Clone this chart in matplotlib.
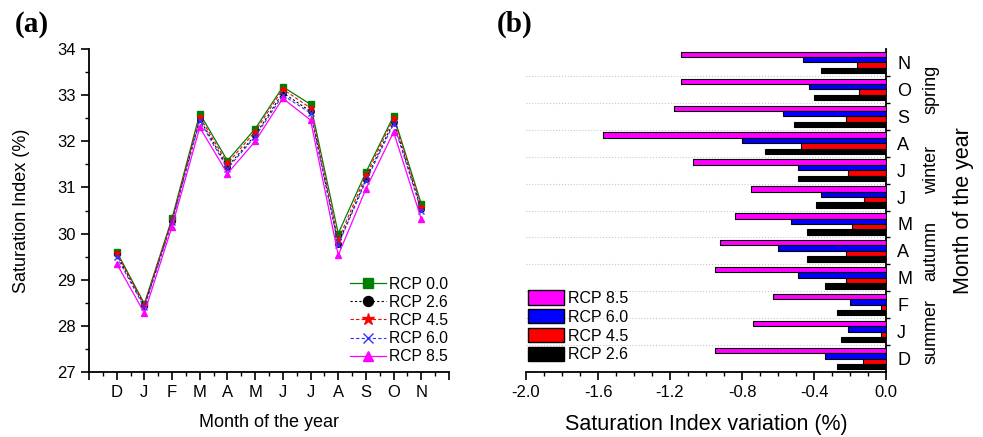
import numpy as np
import matplotlib
matplotlib.use('Agg')
import matplotlib.pyplot as plt
from matplotlib.ticker import MultipleLocator
from matplotlib.patches import Patch

plt.rcParams['font.family'] = ['Liberation Sans', 'DejaVu Sans']

# months (December to November)
months = ['D', 'J', 'F', 'M', 'A', 'M', 'J', 'J', 'A', 'S', 'O', 'N']

# (a) saturation index (%)
si_00 = [29.61, 28.48, 30.33, 32.60, 31.58, 32.27, 33.18, 32.80, 30.00, 31.33, 32.55, 30.64]
si_26 = [29.55, 28.43, 30.27, 32.48, 31.45, 32.13, 33.05, 32.65, 29.78, 31.18, 32.42, 30.53]
si_45 = [29.58, 28.46, 30.30, 32.53, 31.52, 32.21, 33.13, 32.72, 29.86, 31.26, 32.50, 30.58]
si_60 = [29.50, 28.40, 30.25, 32.44, 31.41, 32.10, 33.00, 32.61, 29.76, 31.14, 32.38, 30.49]
si_85 = [29.35, 28.28, 30.15, 32.30, 31.30, 32.00, 32.93, 32.46, 29.53, 30.97, 32.20, 30.31]

# (b) saturation index variation (%)
var_85 = [-0.95, -0.74, -0.63, -0.95, -0.92, -0.84, -0.75, -1.07, -1.57, -1.18, -1.14, -1.14]
var_60 = [-0.34, -0.21, -0.20, -0.49, -0.60, -0.53, -0.36, -0.49, -0.80, -0.57, -0.43, -0.46]
var_45 = [-0.13, -0.03, -0.03, -0.22, -0.22, -0.19, -0.12, -0.21, -0.47, -0.22, -0.15, -0.16]
var_26 = [-0.27, -0.25, -0.27, -0.34, -0.44, -0.44, -0.39, -0.49, -0.67, -0.51, -0.40, -0.36]

seasons = ['summer', 'autumn', 'winter', 'spring']

fig = plt.figure(figsize=(9.83, 4.37), dpi=100)

# ---------------- panel (a)
ax1 = fig.add_axes([0.0905, 0.1487, 0.3663, 0.7392])
x = np.arange(len(months))
ax1.plot(x, si_00, '-', color='#008000', marker='s', ms=4, lw=0.9, label='RCP 0.0')
ax1.plot(x, si_26, '--', color='black', marker='o', ms=4, lw=0.8, dashes=(2, 2), label='RCP 2.6')
ax1.plot(x, si_45, '--', color='red', marker='*', ms=5, lw=0.8, dashes=(3, 2), label='RCP 4.5')
ax1.plot(x, si_60, '--', color='#3030ff', marker='x', ms=4, lw=0.8, dashes=(3, 2), label='RCP 6.0')
ax1.plot(x, si_85, '-', color='magenta', marker='^', ms=4, lw=0.9, label='RCP 8.5')

ax1.set_xlim(-1, 12)
ax1.set_ylim(27, 34)
ax1.set_xticks(np.arange(-1, 13))
ax1.set_xticklabels([''] + months + [''])
ax1.xaxis.set_minor_locator(MultipleLocator(0.5))
ax1.yaxis.set_major_locator(MultipleLocator(1))
ax1.yaxis.set_minor_locator(MultipleLocator(0.5))
ax1.tick_params(which='major', length=6, width=1.2, labelsize=12, direction='out')
ax1.tick_params(which='minor', length=3, width=1.0, direction='out')
for s in ['top', 'right']:
    ax1.spines[s].set_visible(False)
for s in ['left', 'bottom']:
    ax1.spines[s].set_linewidth(1.3)
ax1.set_xlabel('Month of the year', fontsize=13)
ax1.set_ylabel('Saturation Index (%)', fontsize=13)
ax1.xaxis.set_label_coords(0.5, -0.13)
ax1.yaxis.set_label_coords(-0.165, 0.5)
ax1.legend(loc='lower right', bbox_to_anchor=(1.02, 0.0), frameon=False, fontsize=11.3,
           markerscale=1.8, handlelength=2.3, labelspacing=0.2, handletextpad=0.2,
           borderaxespad=0.1)

# ---------------- panel (b)
ax2 = fig.add_axes([0.5351, 0.1487, 0.3663, 0.7392])
y = np.arange(len(months))
h = 0.2
ax2.barh(y + 1.5 * h, var_85, height=h, color='magenta', edgecolor='black', lw=0.8, zorder=3)
ax2.barh(y + 0.5 * h, var_60, height=h, color='blue', edgecolor='black', lw=0.8, zorder=3)
ax2.barh(y - 0.5 * h, var_45, height=h, color='red', edgecolor='black', lw=0.8, zorder=3)
ax2.barh(y - 1.5 * h, var_26, height=h, color='black', edgecolor='black', lw=0.8, zorder=3)
for b in y[:-1] + 0.5:
    ax2.axhline(b, color='#c8c8c8', lw=0.8, ls=':', zorder=1)

ax2.set_xlim(-2.0, 0.0)
ax2.set_ylim(-0.5, 11.5)
ax2.xaxis.set_major_locator(MultipleLocator(0.4))
ax2.xaxis.set_minor_locator(MultipleLocator(0.1))
ax2.xaxis.set_major_formatter(matplotlib.ticker.FormatStrFormatter('%.1f'))
ax2.yaxis.tick_right()
ax2.set_yticks(y)
ax2.set_yticklabels(months)
ax2.set_yticks(y[:-1] + 0.5, minor=True)
ax2.tick_params(axis='y', which='major', length=0, pad=8, labelsize=13)
ax2.tick_params(axis='y', which='minor', length=3, width=1.0, direction='out')
ax2.tick_params(axis='x', which='major', length=6, width=1.2, labelsize=12, direction='out')
ax2.tick_params(axis='x', which='minor', length=3, width=1.0, direction='out')
for s in ['top', 'left']:
    ax2.spines[s].set_visible(False)
for s in ['right', 'bottom']:
    ax2.spines[s].set_linewidth(1.3)
ax2.set_xlabel('Saturation Index variation (%)', fontsize=15.5)
ax2.xaxis.set_label_coords(0.5, -0.13)
ax2.yaxis.set_label_position('right')
ax2.set_ylabel('Month of the year', fontsize=15.5, rotation=90)
ax2.yaxis.set_label_coords(1.186, 0.5)

trans = ax2.get_yaxis_transform()
for k, name in enumerate(seasons):
    ax2.text(1.125, 3 * k + 1, name, transform=trans, rotation=90,
             ha='center', va='center', fontsize=13)

handles = [Patch(facecolor='magenta', edgecolor='black', label='RCP 8.5'),
           Patch(facecolor='blue', edgecolor='black', label='RCP 6.0'),
           Patch(facecolor='red', edgecolor='black', label='RCP 4.5'),
           Patch(facecolor='black', edgecolor='black', label='RCP 2.6')]
ax2.legend(handles=handles, loc='lower left', bbox_to_anchor=(-0.02, 0.0), frameon=False,
           fontsize=11.5, handlelength=2.2, handleheight=1.0, labelspacing=0.2,
           handletextpad=0.3, borderaxespad=0.2)

# panel letters
fig.text(0.015, 0.975, '(a)', fontsize=21, fontweight='bold', family='Liberation Serif', va='top')
fig.text(0.505, 0.975, '(b)', fontsize=21, fontweight='bold', family='Liberation Serif', va='top')

fig.savefig('out.png', dpi=100)
